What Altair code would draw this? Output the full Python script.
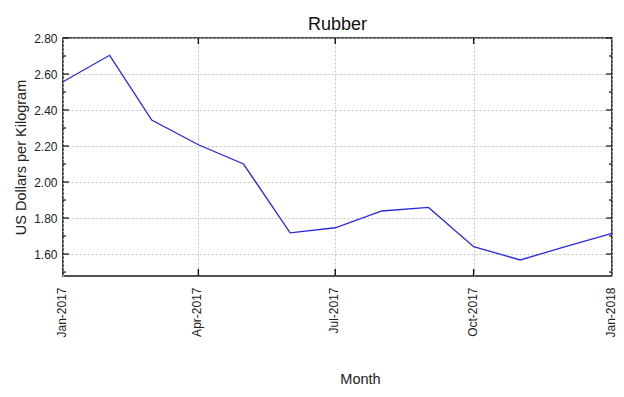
import altair as alt
import pandas as pd

months = ["2017-01-01", "2017-02-01", "2017-03-01", "2017-04-01", "2017-05-01",
          "2017-06-01", "2017-07-01", "2017-08-01", "2017-09-01", "2017-10-01",
          "2017-11-01", "2017-12-01", "2018-01-01"]
prices = [2.557, 2.704, 2.344, 2.207, 2.100, 1.718, 1.746, 1.839, 1.859, 1.641,
          1.567, 1.641, 1.715]

y_major = [1.6, 1.8, 2.0, 2.2, 2.4, 2.6, 2.8]
y_minor = [1.5, 1.7, 1.9, 2.1, 2.3, 2.5, 2.7]
x_major = ["2017-04-01", "2017-07-01", "2017-10-01"]
x_tick_labels = ["2017-01-01", "2017-04-01", "2017-07-01", "2017-10-01", "2018-01-01"]

FONT = "Liberation Sans, Arial, sans-serif"
W, H = 549, 238
Y_DOMAIN = [1.478, 2.8]

df = pd.DataFrame({"date": [m + "T00:00:00" for m in months], "price": prices})
ymaj = pd.DataFrame({"price": y_major})
ymin = pd.DataFrame({"price": y_minor})
xmaj = pd.DataFrame({"date": [d + "T00:00:00" for d in x_major]})

x_dom = [alt.DateTime(year=2017, month=1, date=1), alt.DateTime(year=2018, month=1, date=1)]
x_vals = [alt.DateTime(year=int(d[:4]), month=int(d[5:7]), date=1) for d in x_tick_labels]

xscale = alt.Scale(domain=x_dom, nice=False)
yscale = alt.Scale(domain=Y_DOMAIN, nice=False, zero=False)

x_axis = alt.Axis(values=x_vals, format="%b-%Y", labelAngle=-90,
                  labelPadding=11, labelFlush=False, labelOverlap=False,
                  labelBound=False, labelOffset=-1.5,
                  ticks=False, domain=False, grid=True,
                  gridDash=[2, 2], gridColor="#c4c4c4",
                  titleX=297, titleY=107, titleBaseline="alphabetic",
                  titleAlign="center")
y_axis = alt.Axis(values=y_major, format=".2f", labelPadding=6,
                  labelOverlap=False, labelFlush=False,
                  ticks=False, domain=False, grid=True,
                  gridDash=[2, 2], gridColor="#c4c4c4",
                  titleX=-38, titleY=119, titleBaseline="alphabetic",
                  titleAlign="center", titleAngle=-90)

line = alt.Chart(df).mark_line(color="#2a2adc", strokeWidth=1.3).encode(
    x=alt.X("date:T", scale=xscale, title="Month", axis=x_axis),
    y=alt.Y("price:Q", scale=yscale, title="US Dollars per Kilogram", axis=y_axis),
)

def yticks(data, x0, x1):
    return alt.Chart(data).mark_rule(color="#111", strokeWidth=1.2).encode(
        y=alt.Y("price:Q", scale=yscale, title="US Dollars per Kilogram", axis=y_axis),
        x=alt.value(x0), x2=alt.value(x1))

def xticks(y0, y1):
    return alt.Chart(xmaj).mark_rule(color="#111", strokeWidth=1.4).encode(
        x=alt.X("date:T", scale=xscale, title="Month", axis=x_axis),
        y=alt.value(y0), y2=alt.value(y1))

chart = alt.layer(
    line,
    yticks(ymaj, 0, 6), yticks(ymin, 0, 3),
    yticks(ymaj, W, W - 6), yticks(ymin, W, W - 3),
    xticks(0, 6), xticks(H, H - 7),
).properties(
    width=W, height=H,
    title=alt.TitleParams("Rubber", fontSize=18, font=FONT, fontWeight="normal",
                          color="#111", anchor="middle", offset=4, dy=6),
    autosize=alt.AutoSizeParams(type="none"),
    padding={"left": 55, "top": 30, "right": 4, "bottom": 110},
    background="white",
).configure_view(
    stroke="#1a1a1a", strokeWidth=1.6
).configure_axis(
    labelFont=FONT, labelFontSize=12, labelColor="#222", labelOverlap=False,
    titleFont=FONT, titleFontSize=14.5, titleFontWeight="normal", titleColor="#222",
)

chart.save("out.html", embed_options={"renderer": "svg", "actions": False})
